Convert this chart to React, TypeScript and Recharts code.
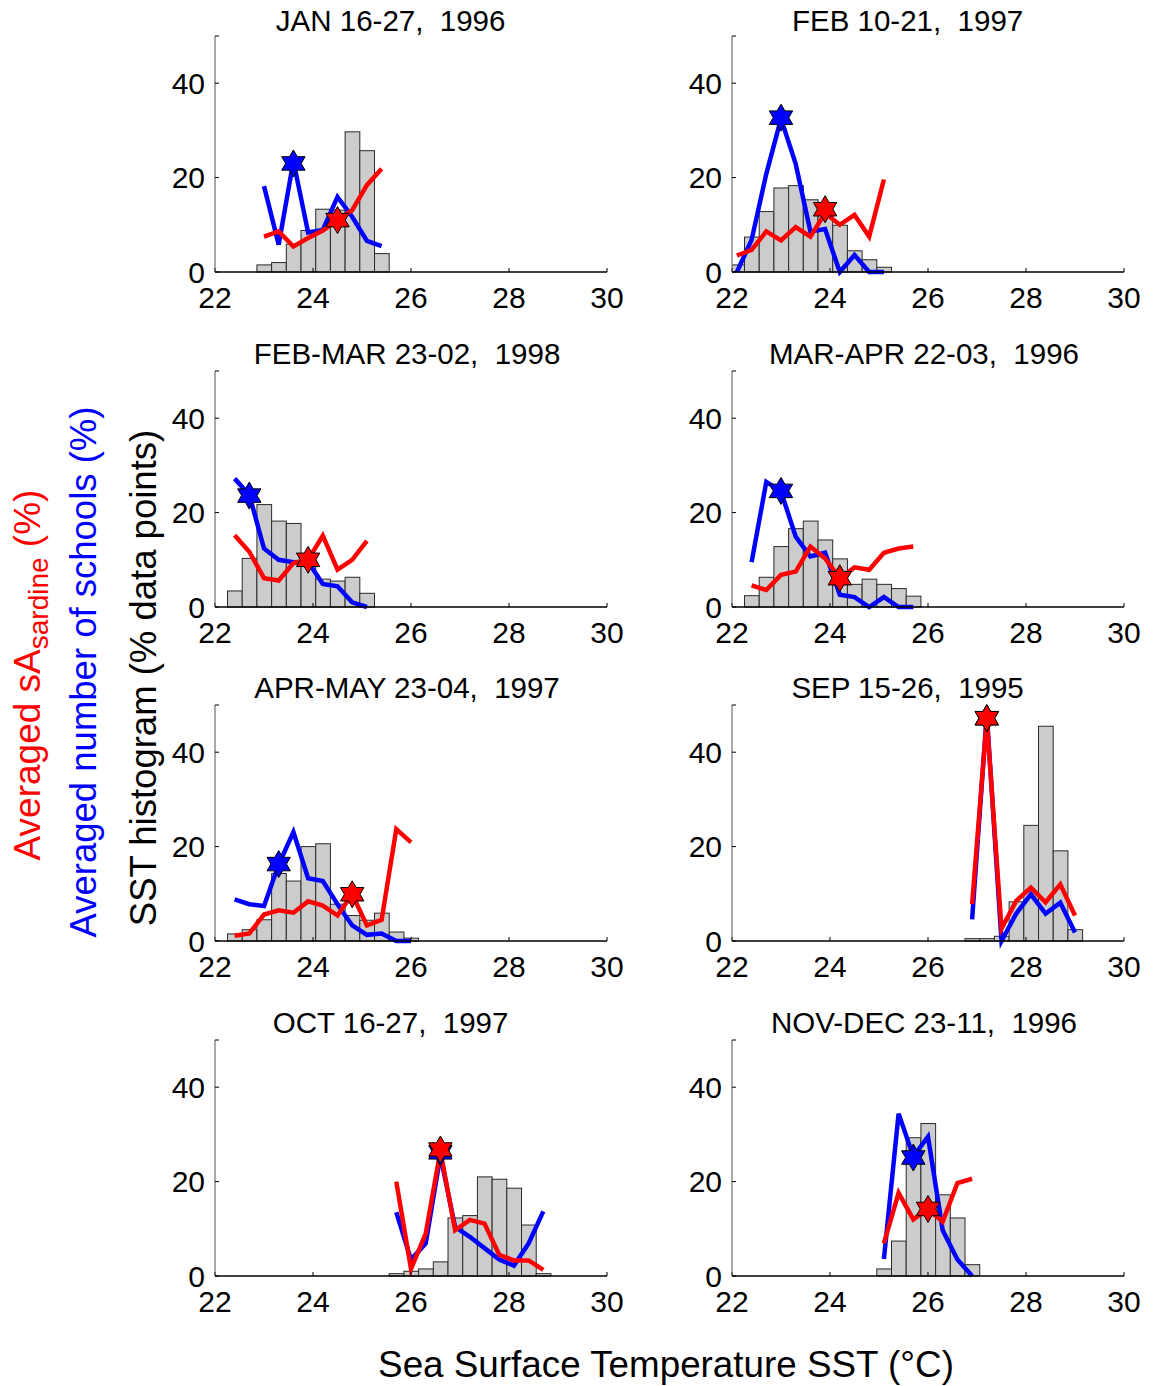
import { ComposedChart, Bar, Line, Scatter, XAxis, YAxis } from "recharts";

const FONT = '"Liberation Sans", Arial, Helvetica, sans-serif';

// JAN 16-27, 1996
const jan96Sst = [23.0, 23.3, 23.6, 23.9, 24.2, 24.5, 24.8, 25.1, 25.4];
const jan96Hist = [1.5, 2.0, 5.9, 8.8, 13.3, 13.1, 29.7, 25.7, 3.9];
const jan96Schools = [18.2, 5.8, 23.5, 8.4, 8.9, 15.9, 11.7, 6.6, 5.5];
const jan96Sa = [7.5, 8.6, 5.4, 7.2, 8.8, 11.0, 13.1, 18.4, 21.9];
const jan96StarSchools = [23.6, 23.0];
const jan96StarSa = [24.5, 11.0];

// FEB 10-21, 1997
const feb97Sst = [22.1, 22.4, 22.7, 23.0, 23.3, 23.6, 23.9, 24.2, 24.5, 24.8, 25.1];
const feb97Hist = [1.5, 7.4, 12.8, 17.8, 18.3, 15.3, 14.5, 9.9, 4.5, 2.6, 1.0];
const feb97Schools = [0, 6.8, 20.8, 32.5, 22.9, 8.6, 9.1, 0, 3.6, 0, 0];
const feb97Sa = [3.5, 4.7, 8.6, 6.7, 9.5, 7.5, 12.5, 10.0, 12.1, 7.5, 19.6];
const feb97StarSchools = [23.0, 32.7];
const feb97StarSa = [23.9, 13.3];

// FEB-MAR 23-02, 1998
const febmar98Sst = [22.4, 22.7, 23.0, 23.3, 23.6, 23.9, 24.2, 24.5, 24.8, 25.1];
const febmar98Hist = [3.4, 10.3, 21.7, 18.2, 17.7, 10.5, 5.9, 5.5, 6.3, 2.9];
const febmar98Schools = [27.2, 23.8, 12.4, 10.0, 9.5, 9.6, 4.9, 4.4, 1.0, 0];
const febmar98Sa = [15.2, 11.7, 6.1, 5.6, 9.3, 10.0, 15.1, 7.9, 10.0, 14.0];
const febmar98StarSchools = [22.7, 23.6];
const febmar98StarSa = [23.9, 10.0];

// MAR-APR 22-03, 1996
const marapr96Sst = [22.4, 22.7, 23.0, 23.3, 23.6, 23.9, 24.2, 24.5, 24.8, 25.1, 25.4, 25.7];
const marapr96Hist = [2.4, 6.3, 12.8, 16.6, 18.2, 14.2, 10.2, 4.8, 5.9, 4.8, 3.9, 2.3];
const marapr96Schools = [9.5, 26.5, 24.5, 14.9, 10.7, 11.5, 2.6, 2.1, 0, 2.1, 0, 0];
const marapr96Sa = [4.6, 3.6, 6.8, 7.5, 12.8, 10.3, 6.1, 8.4, 7.9, 11.5, 12.4, 12.8];
const marapr96StarSchools = [23.0, 24.6];
const marapr96StarSa = [24.2, 6.1];

// APR-MAY 23-04, 1997
const aprmay97Sst = [22.4, 22.7, 23.0, 23.3, 23.6, 23.9, 24.2, 24.5, 24.8, 25.1, 25.4, 25.7, 26.0];
const aprmay97Hist = [1.5, 2.4, 4.5, 14.3, 12.7, 20.0, 20.6, 7.8, 5.4, 4.4, 5.9, 1.9, 0.6];
const aprmay97Schools = [8.8, 7.8, 7.4, 16.2, 23.1, 13.3, 12.7, 7.8, 3.3, 1.3, 1.6, 0, 0];
const aprmay97Sa = [1.1, 1.6, 5.6, 6.5, 6.0, 8.4, 7.5, 5.4, 9.9, 3.3, 4.5, 23.7, 20.9];
const aprmay97StarSchools = [23.3, 16.3];
const aprmay97StarSa = [24.8, 9.9];

// SEP 15-26, 1995
const sep95Sst = [26.9, 27.2, 27.5, 27.8, 28.1, 28.4, 28.7, 29.0];
const sep95Hist = [0.5, 0.5, 1.0, 8.3, 24.5, 45.5, 19.1, 2.4];
const sep95Schools = [4.6, 48.0, 0, 5.8, 9.9, 5.8, 8.1, 1.8];
const sep95Sa = [7.8, 47.0, 2.6, 8.5, 11.3, 8.2, 12.0, 5.4];
const sep95StarSchools = [27.2, 47.2];
const sep95StarSa = [27.2, 47.2];

// OCT 16-27, 1997
const oct97Sst = [25.7, 26.0, 26.3, 26.6, 26.9, 27.2, 27.5, 27.8, 28.1, 28.4, 28.7];
const oct97Hist = [0.5, 1.0, 1.5, 3.0, 12.3, 12.8, 21.0, 20.5, 18.6, 10.8, 0.5];
const oct97Schools = [13.5, 3.5, 6.9, 25.5, 10.4, 8.3, 5.9, 3.5, 2.2, 6.9, 13.7];
const oct97Sa = [20.0, 1.5, 9.0, 26.5, 9.7, 11.9, 11.1, 4.5, 3.3, 3.3, 1.3];
const oct97StarSchools = [26.6, 26.2];
const oct97StarSa = [26.6, 26.8];

// NOV-DEC 23-11, 1996
const novdec96Sst = [25.1, 25.4, 25.7, 26.0, 26.3, 26.6, 26.9];
const novdec96Hist = [1.5, 7.4, 29.3, 32.3, 17.2, 12.3, 2.4];
const novdec96Schools = [3.6, 34.4, 25.3, 29.5, 9.7, 3.5, 0];
const novdec96Sa = [6.9, 17.6, 12.0, 14.2, 11.5, 19.7, 20.6];
const novdec96StarSchools = [25.7, 25.1];
const novdec96StarSa = [26.0, 14.2];

const xTicks = [22, 24, 26, 28, 30];
const yTicks = [0, 20, 40, 50];

const rawTitles = [
  "JAN 16-27,  1996",
  "FEB 10-21,  1997",
  "FEB-MAR 23-02,  1998",
  "MAR-APR 22-03,  1996",
  "APR-MAY 23-04,  1997",
  "SEP 15-26,  1995",
  "OCT 16-27,  1997",
  "NOV-DEC 23-11,  1996",
];
// titles are padded to a common length, like a char matrix
const titleLen = Math.max(...rawTitles.map((t) => t.length));
const titles = rawTitles.map((t) => t.padEnd(titleLen, " "));

const panels = [
  { sst: jan96Sst, hist: jan96Hist, schools: jan96Schools, sa: jan96Sa, starSchools: jan96StarSchools, starSa: jan96StarSa },
  { sst: feb97Sst, hist: feb97Hist, schools: feb97Schools, sa: feb97Sa, starSchools: feb97StarSchools, starSa: feb97StarSa },
  { sst: febmar98Sst, hist: febmar98Hist, schools: febmar98Schools, sa: febmar98Sa, starSchools: febmar98StarSchools, starSa: febmar98StarSa },
  { sst: marapr96Sst, hist: marapr96Hist, schools: marapr96Schools, sa: marapr96Sa, starSchools: marapr96StarSchools, starSa: marapr96StarSa },
  { sst: aprmay97Sst, hist: aprmay97Hist, schools: aprmay97Schools, sa: aprmay97Sa, starSchools: aprmay97StarSchools, starSa: aprmay97StarSa },
  { sst: sep95Sst, hist: sep95Hist, schools: sep95Schools, sa: sep95Sa, starSchools: sep95StarSchools, starSa: sep95StarSa },
  { sst: oct97Sst, hist: oct97Hist, schools: oct97Schools, sa: oct97Sa, starSchools: oct97StarSchools, starSa: oct97StarSa },
  { sst: novdec96Sst, hist: novdec96Hist, schools: novdec96Schools, sa: novdec96Sa, starSchools: novdec96StarSchools, starSa: novdec96StarSa },
];

// layout
const CHART_W = 500;
const CHART_H = 330;
const MARGIN = { top: 36, right: 33, bottom: 8, left: 15 };
const Y_AXIS_W = 60;
const X_AXIS_H = 50;
const PLOT_W = CHART_W - MARGIN.left - MARGIN.right - Y_AXIS_W;
const BIN_PX = (PLOT_W * 0.3) / 8;
const COL_LEFT = [140, 657];
const ROW_TOP = [0, 335, 669, 1004];
const LINE_W = 4.5;

function HistBar(props: any) {
  const { x, y, width, height } = props;
  if (height == null || height <= 0) return null;
  const cx = x + width / 2;
  return (
    <rect
      x={cx - BIN_PX / 2}
      y={y}
      width={BIN_PX}
      height={height}
      fill="#cccccc"
      stroke="#2a2a2a"
      strokeWidth={1}
    />
  );
}

function hexagram(cx: number, cy: number, r: number) {
  const inner = r / Math.sqrt(3);
  const pts: string[] = [];
  for (let i = 0; i < 12; i++) {
    const a = -Math.PI / 2 + (i * Math.PI) / 6;
    const rr = i % 2 === 0 ? r : inner;
    pts.push(`${cx + rr * Math.cos(a)},${cy + rr * Math.sin(a)}`);
  }
  return pts.join(" ");
}

const starShape = (fill: string) => (props: any) => (
  <polygon points={hexagram(props.cx, props.cy, 13.5)} fill={fill} stroke="#000" strokeWidth={1} />
);

function Panel({ idx }: { idx: number }) {
  const p = panels[idx];
  const rows = p.sst.map((t, i) => ({
    sst: t,
    hist: p.hist[i],
    schools: p.schools[i],
    sa: p.sa[i],
  }));
  const left = COL_LEFT[idx % 2];
  const top = ROW_TOP[Math.floor(idx / 2)];
  const plotCenter = left + MARGIN.left + Y_AXIS_W + PLOT_W / 2;
  return (
    <>
      <div
        style={{
          position: "absolute",
          left: plotCenter - 254,
          width: 500,
          top: top + (idx < 2 ? 6 : 4),
          textAlign: "center",
          whiteSpace: "pre",
          fontFamily: FONT,
          fontSize: 29.5,
          lineHeight: "29px",
          color: "#000",
        }}
      >
        {titles[idx]}
      </div>
      <div style={{ position: "absolute", left, top }}>
        <ComposedChart width={CHART_W} height={CHART_H} data={rows} margin={MARGIN}>
          <XAxis
            type="number"
            dataKey="sst"
            domain={[22, 30]}
            ticks={xTicks}
            allowDataOverflow
            height={X_AXIS_H}
            tickSize={-4}
            tickMargin={19}
            tick={{ fontSize: 30, fill: "#000", fontFamily: FONT }}
            axisLine={{ stroke: "#000", strokeWidth: 1.5 }}
            tickLine={{ stroke: "#000" }}
          />
          <YAxis
            type="number"
            domain={[0, 50]}
            ticks={yTicks}
            tickFormatter={(v: number) => (v === 50 ? "" : String(v))}
            width={Y_AXIS_W}
            tickSize={-4}
            tickMargin={14}
            tick={{ fontSize: 30, fill: "#000", fontFamily: FONT }}
            axisLine={{ stroke: "#555" }}
            tickLine={{ stroke: "#000" }}
          />
          <Bar dataKey="hist" barSize={BIN_PX} shape={HistBar} isAnimationActive={false} />
          <Line
            type="linear"
            dataKey="schools"
            stroke="#0000ff"
            strokeWidth={LINE_W}
            dot={false}
            activeDot={false}
            isAnimationActive={false}
          />
          <Line
            type="linear"
            dataKey="sa"
            stroke="#ff0000"
            strokeWidth={LINE_W}
            dot={false}
            activeDot={false}
            isAnimationActive={false}
          />
          <Scatter
            data={[{ sst: p.starSchools[0], v: p.starSchools[1] }]}
            dataKey="v"
            shape={starShape("#0000ff")}
            isAnimationActive={false}
          />
          <Scatter
            data={[{ sst: p.starSa[0], v: p.starSa[1] }]}
            dataKey="v"
            shape={starShape("#ff0000")}
            isAnimationActive={false}
          />
        </ComposedChart>
      </div>
    </>
  );
}

export default function App() {
  return (
    <div
      style={{
        position: "absolute",
        left: 0,
        top: 0,
        width: 1153,
        height: 1386,
        background: "#fff",
        overflow: "hidden",
      }}
    >
      {panels.map((_, i) => (
        <Panel key={i} idx={i} />
      ))}
      <svg
        width={1153}
        height={1386}
        style={{ position: "absolute", left: 0, top: 0, pointerEvents: "none" }}
        fontFamily={FONT}
      >
        <text
          transform="translate(40,675) rotate(-90)"
          textAnchor="middle"
          fontSize={37}
          fill="#ff0000"
        >
          Averaged sA
          <tspan fontSize={28} dy={8}>sardine</tspan>
          <tspan dy={-8}> (%)</tspan>
        </text>
        <text
          transform="translate(96,672) rotate(-90)"
          textAnchor="middle"
          fontSize={36.5}
          fill="#0000ff"
        >
          Averaged number of schools (%)
        </text>
        <text
          transform="translate(156,678) rotate(-90)"
          textAnchor="middle"
          fontSize={36.5}
          fill="#000"
        >
          SST histogram (% data points)
        </text>
        <text x={666} y={1377} textAnchor="middle" fontSize={36.8} fill="#000">
          Sea Surface Temperature SST (°C)
        </text>
      </svg>
    </div>
  );
}
